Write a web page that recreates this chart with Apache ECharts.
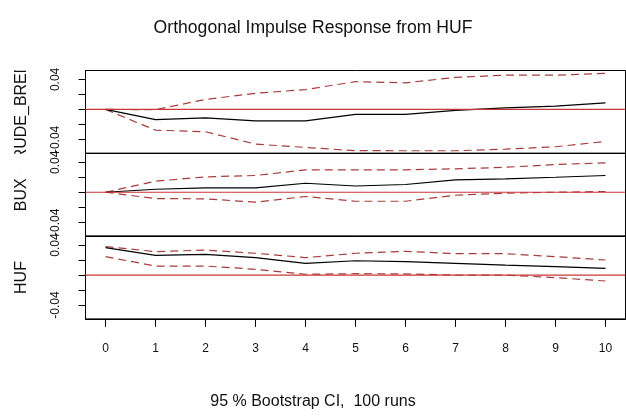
<!DOCTYPE html>
<html><head><meta charset="utf-8">
<script src="https://cdn.jsdelivr.net/npm/echarts@6/dist/echarts.min.js"></script>
<style>html,body{margin:0;padding:0;background:#fff}#c{width:626px;height:417px}</style>
</head><body><div id="c"></div>
<script>
// ---- data ----
const steps = [0, 1, 2, 3, 4, 5, 6, 7, 8, 9, 10];
const xTicks = [0, 1, 2, 3, 4, 5, 6, 7, 8, 9, 10];
const yTicks = [-0.04, -0.02, 0, 0.02, 0.04];
const yTickLabels = [-0.04, 0.04];
const panelNames = ['CRUDE_BRENT', 'BUX', 'HUF'];

const crudeIrf   = [0, -0.0135, -0.0112, -0.0152, -0.0152, -0.0067, -0.0067, -0.0012, 0.0021, 0.0044, 0.0088];
const crudeLower = [0, -0.0276, -0.0298, -0.0462, -0.0507, -0.0550, -0.0551, -0.0551, -0.0530, -0.0498, -0.0427];
const crudeUpper = [0, -0.0003, 0.0133, 0.0215, 0.0265, 0.0370, 0.0355, 0.0427, 0.0457, 0.0457, 0.0480];

const buxIrf   = [0, 0.0040, 0.0059, 0.0059, 0.0120, 0.0083, 0.0103, 0.0165, 0.0179, 0.0200, 0.0223];
const buxLower = [0, -0.0085, -0.0088, -0.0133, -0.0057, -0.0120, -0.0120, -0.0040, -0.0013, 0.0000, 0.0010];
const buxUpper = [0, 0.0147, 0.0205, 0.0223, 0.0299, 0.0299, 0.0299, 0.0312, 0.0333, 0.0369, 0.0392];

const hufIrf   = [0.0365, 0.0263, 0.0276, 0.0232, 0.0156, 0.0190, 0.0179, 0.0156, 0.0133, 0.0112, 0.0089];
const hufLower = [0.0245, 0.0120, 0.0120, 0.0076, 0.0010, 0.0018, 0.0015, 0.0000, 0.0000, -0.0035, -0.0080];
const hufUpper = [0.0380, 0.0312, 0.0333, 0.0290, 0.0232, 0.0290, 0.0316, 0.0285, 0.0285, 0.0245, 0.0200];

const zeroLine = [-0.4, 10.4];

const titleText = 'Orthogonal Impulse Response from HUF';
const subText = '95 % Bootstrap CI,  100 runs';

// ---- build ----
const panels = [
  { irf: crudeIrf, lo: crudeLower, hi: crudeUpper },
  { irf: buxIrf, lo: buxLower, hi: buxUpper },
  { irf: hufIrf, lo: hufLower, hi: hufUpper }
];
const FONT = 'Liberation Sans, Arial, sans-serif';
const tops = [70.5, 153.3, 236.1];
const H = 82.8;
const pair = arr => steps.map((s, i) => [s, arr[i]]);

const grid = [], xAxis = [], yAxis = [], series = [];
panels.forEach((p, i) => {
  const last = i === panels.length - 1;
  grid.push({ left: 85.5, top: tops[i], width: 540, height: H, show: true,
    borderColor: '#000', borderWidth: 1, backgroundColor: 'transparent' });
  xAxis.push({ type: 'value', gridIndex: i, min: -0.4, max: 10.4,
    axisLine: { show: true, onZero: false, lineStyle: { color: '#000' } },
    axisTick: { show: last, length: 8, customValues: xTicks, lineStyle: { color: '#000' } },
    axisLabel: { show: last, customValues: xTicks, margin: 24, fontSize: 12, color: '#111', fontFamily: FONT },
    splitLine: { show: false } });
  yAxis.push({ type: 'value', gridIndex: i, min: -0.0585, max: 0.0519,
    name: panelNames[i], nameLocation: 'middle', nameGap: 56, nameRotate: 90,
    nameTextStyle: { fontSize: 16, color: '#111', fontFamily: FONT },
    axisLine: { show: true, onZero: false, lineStyle: { color: '#000' } },
    axisTick: { show: true, length: 7, customValues: yTicks, lineStyle: { color: '#000' } },
    axisLabel: { rotate: 90, margin: 24, customValues: yTickLabels, fontSize: 12, color: '#111', fontFamily: FONT,
      formatter: v => Number(v).toFixed(2) },
    splitLine: { show: false } });
  series.push({ type: 'line', xAxisIndex: i, yAxisIndex: i, data: pair(p.irf), showSymbol: false,
    lineStyle: { color: '#000', width: 1.2 }, z: 3 });
  series.push({ type: 'line', xAxisIndex: i, yAxisIndex: i, data: pair(p.lo), showSymbol: false,
    lineStyle: { color: '#a83c3c', width: 1.2, type: [8, 5] }, z: 2 });
  series.push({ type: 'line', xAxisIndex: i, yAxisIndex: i, data: pair(p.hi), showSymbol: false,
    lineStyle: { color: '#a83c3c', width: 1.2, type: [8, 5] }, z: 2 });
  series.push({ type: 'line', xAxisIndex: i, yAxisIndex: i, data: zeroLine.map(x => [x, 0]), showSymbol: false,
    silent: true, lineStyle: { color: '#cc3535', width: 1.2 }, z: 4 });
});

const chart = echarts.init(document.getElementById('c'), null, { renderer: 'canvas' });
chart.setOption({
  animation: false,
  backgroundColor: '#fff',
  title: [
    { text: titleText, left: 'center', top: 14, textStyle: { fontSize: 17.6, fontWeight: 'normal', color: '#111', fontFamily: FONT } },
    { text: subText, left: 'center', top: 389, textStyle: { fontSize: 16, fontWeight: 'normal', color: '#111', fontFamily: FONT } }
  ],
  grid, xAxis, yAxis, series,
  graphic: [
    { type: 'rect', shape: { x: 0, y: 45, width: 40, height: 25.5 }, style: { fill: '#fff' }, z: 100 },
    { type: 'rect', shape: { x: 0, y: 153.8, width: 40, height: 18 }, style: { fill: '#fff' }, z: 100 }
  ]
});
</script></body></html>
